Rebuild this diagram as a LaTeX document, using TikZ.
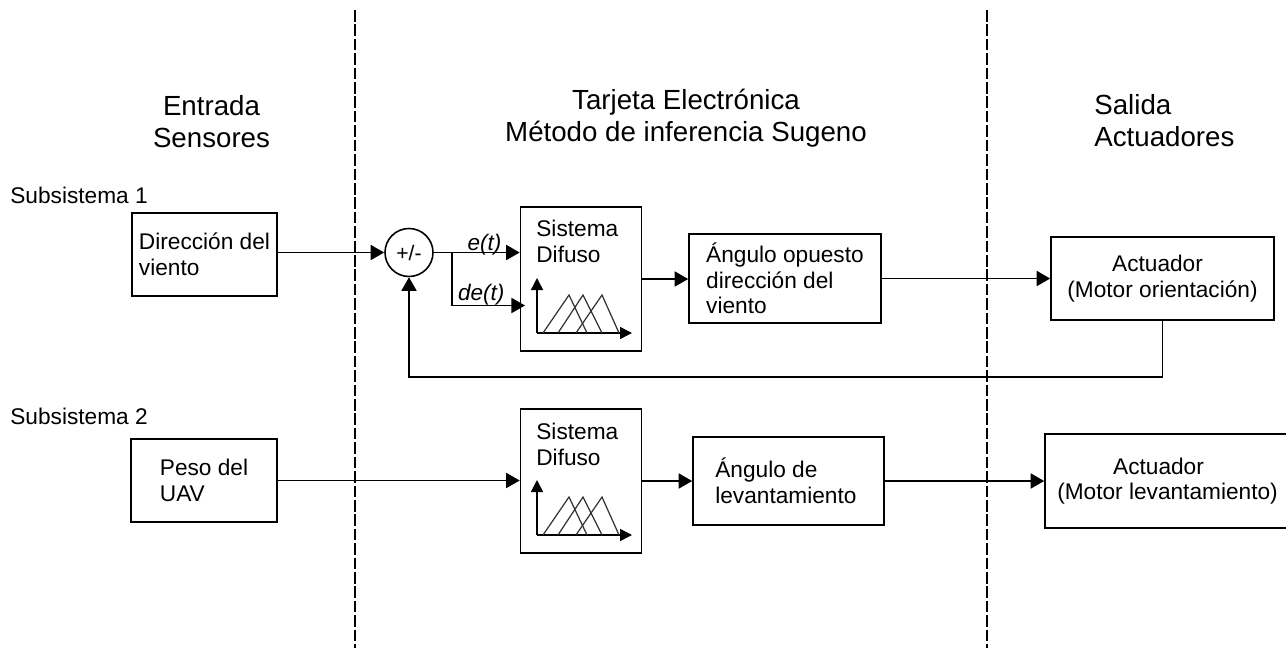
\documentclass[tikz,border=0pt]{standalone}
\usepackage{fontspec}
\setmainfont{Liberation Sans}
\usetikzlibrary{arrows.meta}

\tikzset{
  >={Triangle[length=0.27cm,width=0.3cm]},
  bloque/.style={draw=black, line width=0.9pt, inner sep=0pt, align=center, font=\fontsize{12.9}{14.6}\selectfont},
  texto/.style={inner sep=0pt, align=left, font=\fontsize{12.9}{14.6}\selectfont},
  titulo/.style={inner sep=0pt, align=center, font=\fontsize{15.75}{18.2}\selectfont},
  senal/.style={font=\itshape\fontsize{12.8}{14}\selectfont},
  flecha/.style={->, line width=0.9pt},
  frontera/.style={dash pattern=on 6.6pt off 1.6pt, line width=0.8pt},
  eje/.style={->, line width=0.8pt, >={Triangle[length=0.24cm,width=0.24cm]}},
  curva/.style={line width=0.7pt, black!80}
}

% icono de funciones de pertenencia, origen en la esquina de los ejes
\newcommand{\iconodifuso}[2]{
  \coordinate (#1o) at (#2) ;
  \coordinate (#1y) at ([yshift=1.1cm]#2) ;
  \coordinate (#1x) at ([xshift=1.9cm]#2) ;
  \draw[eje] (#1o) -- (#1y) ;
  \draw[eje] (#1o) -- (#1x) ;
  \draw[curva] ([xshift=0.12cm]#2) -- ++(0.52,0.76) -- ++(0.36,-0.76) ;
  \draw[curva] ([xshift=0.42cm]#2) -- ++(0.5,0.76) -- ++(0.38,-0.76) ;
  \draw[curva] ([xshift=0.78cm]#2) -- ++(0.52,0.76) -- ++(0.34,-0.76) ;
}

\begin{document}
\begin{tikzpicture}
\useasboundingbox (0,0) rectangle (25.72,-12.96) ;

% fronteras
\coordinate (f1a) at (7.10,-0.2) ;
\coordinate (f1b) at (7.10,-12.96) ;
\coordinate (f2a) at (19.74,-0.2) ;
\coordinate (f2b) at (19.74,-12.96) ;
\draw[frontera] (f1a) -- (f1b) ;
\draw[frontera] (f2a) -- (f2b) ;

% titulos
\node[titulo] at (4.23,-2.43) (entrada) {Entrada\\Sensores} ;
\node[titulo] at (13.72,-2.36) (tarjeta) {Tarjeta Electrónica\\Método de inferencia Sugeno} ;
\node[titulo, anchor=west, align=left] at (21.88,-2.42) (salida) {Salida\\Actuadores} ;
\node[texto, anchor=west] at (0.2,-3.9) (sub1) {Subsistema 1} ;
\node[texto, anchor=west] at (0.2,-8.32) (sub2) {Subsistema 2} ;

% subsistema 1
\node[bloque, align=left, minimum width=2.9cm, minimum height=1.66cm] at (4.09,-5.09) (dir) {Dirección del\\viento} ;
\node[circle, draw=black, line width=0.9pt, minimum size=0.96cm, inner sep=0pt, font=\fontsize{12}{14}\selectfont] at (8.18,-5.05) (suma) {+/-} ;
\node[bloque, minimum width=2.42cm, minimum height=2.88cm] at (11.62,-5.58) (dif1) {} ;
\node[texto, anchor=north west] at (10.72,-4.4) (dif1txt) {Sistema\\Difuso} ;
\node[bloque, align=left, minimum width=3.84cm, minimum height=1.78cm] at (15.7,-5.57) (ang1) {Ángulo opuesto\\dirección del\\viento} ;
\node[bloque, minimum width=4.46cm, minimum height=1.66cm] at (23.25,-5.57) (act1) {Actuador\hspace*{0.2cm}\\(Motor orientación)} ;
\iconodifuso{a}{10.74,-6.66}

\coordinate (rama) at (9.04,-5.05) ;
\coordinate (ret1) at (23.25,-7.54) ;
\coordinate (ret2) at (8.18,-7.54) ;
\draw[flecha] (dir.east |- suma.west) -- (suma.west) ;
\draw[flecha] (suma.east) -- node[senal, above=-5.5pt, pos=0.59]{e(t)} (suma.east -| dif1.west) ;
\draw[flecha] (rama) |- node[senal, above=-3.8pt, pos=0.7]{de(t)} ([xshift=3pt,yshift=-0.53cm]dif1.west) ;
\draw[flecha] (dif1.east) -- (dif1.east -| ang1.west) ;
\draw[flecha] (ang1.east) -- (ang1.east -| act1.west) ;
\draw[flecha] (act1.south) -- (ret1) -- (ret2) -- (suma.south) ;

% subsistema 2
\node[bloque, align=left, minimum width=2.92cm, minimum height=1.66cm] at (4.08,-9.61) (peso) {Peso del\\UAV} ;
\node[bloque, minimum width=2.42cm, minimum height=2.88cm] at (11.62,-9.62) (dif2) {} ;
\node[texto, anchor=north west] at (10.72,-8.46) (dif2txt) {Sistema\\Difuso} ;
\node[bloque, minimum width=3.82cm, minimum height=1.76cm] at (15.77,-9.62) (ang2) {} ;
\node[texto, anchor=west] at (14.3,-9.62) (ang2txt) {Ángulo de\\levantamiento} ;
\node[bloque, minimum width=4.9cm, minimum height=1.88cm] at (23.35,-9.62) (act2) {Actuador\hspace*{0.36cm}\\(Motor levantamiento)} ;
\iconodifuso{b}{10.74,-10.7}

\draw[flecha] (peso.east) -- (peso.east -| dif2.west) ;
\draw[flecha] (dif2.east) -- (dif2.east -| ang2.west) ;
\draw[flecha] (ang2.east) -- (ang2.east -| act2.west) ;
\end{tikzpicture}
\end{document}
